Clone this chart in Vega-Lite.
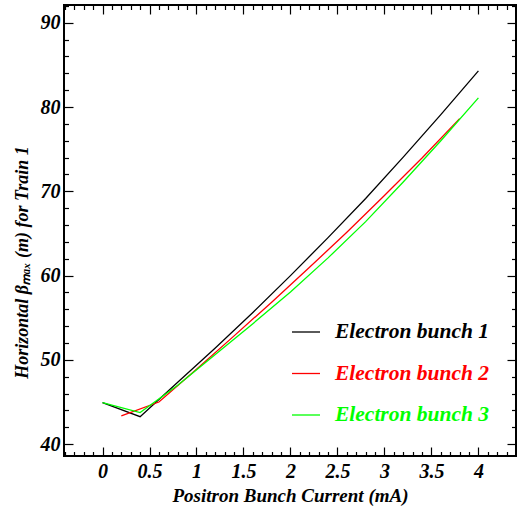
{
  "$schema": "https://vega.github.io/schema/vega-lite/v6.json",
  "width": 452,
  "height": 451,
  "autosize": "none",
  "padding": {"left": 64, "top": 5, "right": 3, "bottom": 52},
  "background": "#ffffff",
  "config": {
    "view": {"stroke": "#000000", "strokeWidth": 2},
    "axis": {
      "domain": false,
      "grid": false,
      "tickColor": "#000000",
      "tickWidth": 1.2,
      "labelFont": "Liberation Serif",
      "labelFontStyle": "italic",
      "labelFontWeight": "bold",
      "labelFontSize": 20,
      "labelColor": "#000000",
      "titleFont": "Liberation Serif",
      "titleFontStyle": "italic",
      "titleFontWeight": "bold",
      "titleFontSize": 19,
      "titleColor": "#000000"
    }
  },
  "datasets": {
    "curves": [
      {"current": 0.0, "beta": 44.93, "series": "Electron bunch 1"},
      {"current": 0.4, "beta": 43.27, "series": "Electron bunch 1"},
      {"current": 0.8, "beta": 47.35, "series": "Electron bunch 1"},
      {"current": 1.2, "beta": 51.4, "series": "Electron bunch 1"},
      {"current": 1.6, "beta": 55.62, "series": "Electron bunch 1"},
      {"current": 2.0, "beta": 60.0, "series": "Electron bunch 1"},
      {"current": 2.4, "beta": 64.5, "series": "Electron bunch 1"},
      {"current": 2.8, "beta": 69.15, "series": "Electron bunch 1"},
      {"current": 3.2, "beta": 74.05, "series": "Electron bunch 1"},
      {"current": 3.6, "beta": 79.1, "series": "Electron bunch 1"},
      {"current": 4.0, "beta": 84.28, "series": "Electron bunch 1"},
      {"current": 0.2, "beta": 43.36, "series": "Electron bunch 2"},
      {"current": 0.6, "beta": 45.0, "series": "Electron bunch 2"},
      {"current": 1.0, "beta": 48.9, "series": "Electron bunch 2"},
      {"current": 1.4, "beta": 52.85, "series": "Electron bunch 2"},
      {"current": 1.8, "beta": 56.85, "series": "Electron bunch 2"},
      {"current": 2.2, "beta": 60.95, "series": "Electron bunch 2"},
      {"current": 2.6, "beta": 65.15, "series": "Electron bunch 2"},
      {"current": 3.0, "beta": 69.5, "series": "Electron bunch 2"},
      {"current": 3.4, "beta": 73.95, "series": "Electron bunch 2"},
      {"current": 3.8, "beta": 78.62, "series": "Electron bunch 2"},
      {"current": 0.0, "beta": 44.93, "series": "Electron bunch 3"},
      {"current": 0.4, "beta": 43.75, "series": "Electron bunch 3"},
      {"current": 0.8, "beta": 47.0, "series": "Electron bunch 3"},
      {"current": 1.2, "beta": 50.65, "series": "Electron bunch 3"},
      {"current": 1.6, "beta": 54.3, "series": "Electron bunch 3"},
      {"current": 2.0, "beta": 58.05, "series": "Electron bunch 3"},
      {"current": 2.4, "beta": 62.1, "series": "Electron bunch 3"},
      {"current": 2.8, "beta": 66.4, "series": "Electron bunch 3"},
      {"current": 3.2, "beta": 71.1, "series": "Electron bunch 3"},
      {"current": 3.6, "beta": 76.0, "series": "Electron bunch 3"},
      {"current": 4.0, "beta": 81.08, "series": "Electron bunch 3"}
    ]
  },
  "data": {"name": "curves"},
  "layer": [
    {
      "mark": {"type": "line", "strokeWidth": 1.3},
      "encoding": {
        "x": {
          "field": "current", "type": "quantitative",
          "scale": {"domain": [-0.41, 4.4], "nice": false, "zero": false},
          "axis": {
            "orient": "bottom",
            "values": [0, 0.5, 1, 1.5, 2, 2.5, 3, 3.5, 4],
            "format": "~g",
            "tickSize": -9,
            "labelPadding": 14,
            "title": "Positron Bunch Current (mA)",
            "titlePadding": 5
          }
        },
        "y": {
          "field": "beta", "type": "quantitative",
          "scale": {"domain": [38.6, 92.1], "nice": false, "zero": false},
          "axis": {
            "orient": "left",
            "values": [40, 50, 60, 70, 80, 90],
            "tickSize": -9,
            "labelPadding": 13,
            "title": "Horizontal βₘₐₓ (m) for Train 1",
            "titleFontSize": 18,
            "titleY": 257,
            "titlePadding": 9
          }
        },
        "color": {
          "field": "series", "type": "nominal",
          "scale": {
            "domain": ["Electron bunch 1", "Electron bunch 2", "Electron bunch 3"],
            "range": ["#000000", "#ff0000", "#00ff00"]
          },
          "legend": {
            "orient": "none",
            "legendX": 227,
            "legendY": 312,
            "title": null,
            "symbolType": "stroke",
            "symbolSize": 784,
            "symbolStrokeWidth": 1.3,
            "labelFont": "Liberation Serif",
            "labelFontStyle": "italic",
            "labelFontWeight": "bold",
            "labelFontSize": 21.5,
            "labelOffset": 14,
            "rowPadding": 15.5,
            "labelLimit": 300,
            "encode": {
              "labels": {"update": {"fill": {"scale": "color", "field": "value"}}}
            }
          }
        }
      }
    },
    {
      "mark": {"type": "point", "opacity": 0},
      "encoding": {
        "x": {
          "field": "current", "type": "quantitative",
          "axis": {
            "orient": "bottom",
            "values": [-0.4, -0.3, -0.2, -0.1, 0.1, 0.2, 0.3, 0.4, 0.6, 0.7, 0.8, 0.9, 1.1, 1.2, 1.3, 1.4, 1.6, 1.7, 1.8, 1.9, 2.1, 2.2, 2.3, 2.4, 2.6, 2.7, 2.8, 2.9, 3.1, 3.2, 3.3, 3.4, 3.6, 3.7, 3.8, 3.9, 4.1, 4.2, 4.3],
            "tickSize": -4.5,
            "labels": false,
            "title": null
          }
        },
        "y": {
          "field": "beta", "type": "quantitative",
          "axis": {
            "orient": "left",
            "values": [42, 44, 46, 48, 52, 54, 56, 58, 62, 64, 66, 68, 72, 74, 76, 78, 82, 84, 86, 88, 92],
            "tickSize": -4.5,
            "labels": false,
            "title": null
          }
        }
      }
    },
    {
      "mark": {"type": "point", "opacity": 0},
      "encoding": {
        "x": {
          "field": "current", "type": "quantitative",
          "axis": {
            "orient": "top",
            "values": [0, 0.5, 1, 1.5, 2, 2.5, 3, 3.5, 4],
            "tickSize": -9,
            "labels": false,
            "title": null
          }
        },
        "y": {
          "field": "beta", "type": "quantitative",
          "axis": {
            "orient": "right",
            "values": [40, 50, 60, 70, 80, 90],
            "tickSize": -9,
            "labels": false,
            "title": null
          }
        }
      }
    },
    {
      "mark": {"type": "point", "opacity": 0},
      "encoding": {
        "x": {
          "field": "current", "type": "quantitative",
          "axis": {
            "orient": "top",
            "values": [-0.4, -0.3, -0.2, -0.1, 0.1, 0.2, 0.3, 0.4, 0.6, 0.7, 0.8, 0.9, 1.1, 1.2, 1.3, 1.4, 1.6, 1.7, 1.8, 1.9, 2.1, 2.2, 2.3, 2.4, 2.6, 2.7, 2.8, 2.9, 3.1, 3.2, 3.3, 3.4, 3.6, 3.7, 3.8, 3.9, 4.1, 4.2, 4.3],
            "tickSize": -4.5,
            "labels": false,
            "title": null
          }
        },
        "y": {
          "field": "beta", "type": "quantitative",
          "axis": {
            "orient": "right",
            "values": [42, 44, 46, 48, 52, 54, 56, 58, 62, 64, 66, 68, 72, 74, 76, 78, 82, 84, 86, 88, 92],
            "tickSize": -4.5,
            "labels": false,
            "title": null
          }
        }
      }
    }
  ],
  "resolve": {"axis": {"x": "independent", "y": "independent"}}
}
